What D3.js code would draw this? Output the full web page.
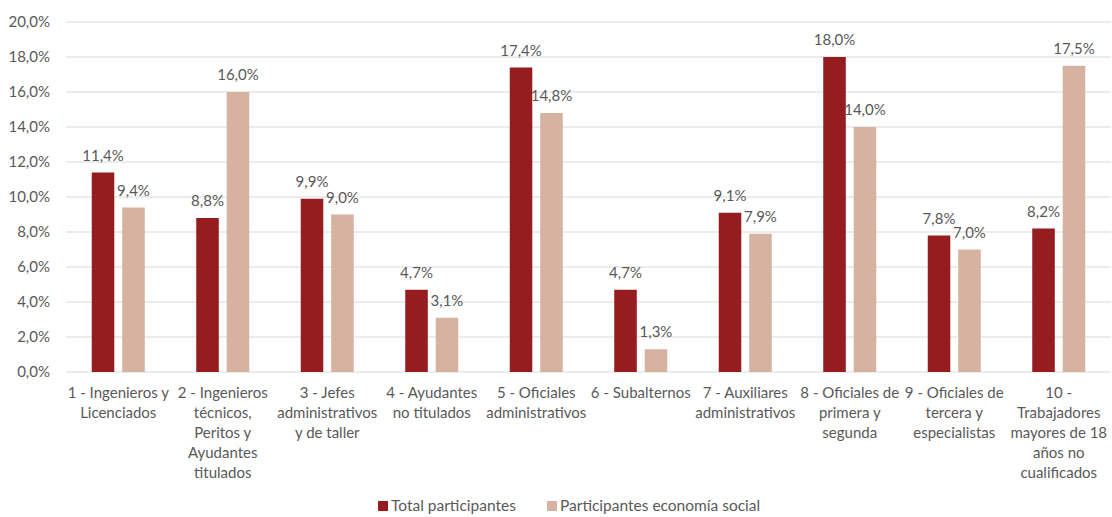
<!DOCTYPE html>
<html>
<head>
<meta charset="utf-8">
<script src="https://cdn.jsdelivr.net/npm/d3@7"></script>
<style>
  body { margin: 0; background: #fff; }
  text { font-family: Lato, "Open Sans", sans-serif; fill: #595959; }
</style>
</head>
<body>
<script>
// data
var categories = [
    '1 - Ingenieros y\nLicenciados',
    '2 - Ingenieros\ntécnicos,\nPeritos y\nAyudantes\ntitulados',
    '3 - Jefes\nadministrativos\ny de taller',
    '4 - Ayudantes\nno titulados',
    '5 - Oficiales\nadministrativos',
    '6 - Subalternos',
    '7 - Auxiliares\nadministrativos',
    '8 - Oficiales de\nprimera y\nsegunda',
    '9 - Oficiales de\ntercera y\nespecialistas',
    '10 -\nTrabajadores\nmayores de 18\naños no\ncualificados'
];
var seriesNames = ['Total participantes', 'Participantes economía social'];
var totalValues  = [11.4, 8.8, 9.9, 4.7, 17.4, 4.7, 9.1, 18.0, 7.8, 8.2];
var socialValues = [9.4, 16.0, 9.0, 3.1, 14.8, 1.3, 7.9, 14.0, 7.0, 17.5];
var yTicks = [0, 2, 4, 6, 8, 10, 12, 14, 16, 18, 20];
var colors = ['#951C1F', '#D5B3A0'];

// init
var width  = 1112,
    height = 517,
    margin = { top: 22, right: 1, bottom: 145, left: 66 };

var fmt = function (v) { return v.toFixed(1).replace('.', ',') + '%'; };

var svg = d3.select('body')
    .append('svg')
    .attr('width', width)
    .attr('height', height);

// scales
var xScale = d3.scaleBand()
    .domain(categories)
    .range([margin.left, width - margin.right]);

var xInner = d3.scaleBand()
    .domain(seriesNames)
    .range([xScale.bandwidth() / 2 - 26.5, xScale.bandwidth() / 2 + 26.5])
    .paddingInner(0.26);

var yScale = d3.scaleLinear()
    .domain([0, 20])
    .range([height - margin.bottom, margin.top]);

// grid lines
svg.append('g')
    .selectAll('line')
    .data(yTicks)
    .join('line')
    .attr('x1', margin.left)
    .attr('x2', width - margin.right)
    .attr('y1', d => yScale(d))
    .attr('y2', d => yScale(d))
    .attr('stroke', '#D9D9D9')
    .attr('stroke-width', 1);

// y-axis labels
svg.append('g')
    .selectAll('text')
    .data(yTicks)
    .join('text')
    .attr('x', 50)
    .attr('y', d => yScale(d))
    .attr('dy', '0.35em')
    .attr('text-anchor', 'end')
    .style('font-size', '15px')
    .text(d => fmt(d));

// bars
var rows = categories.map((c, i) => ({ cat: c, values: [totalValues[i], socialValues[i]] }));

var groups = svg.append('g')
    .selectAll('g')
    .data(rows)
    .join('g')
    .attr('transform', d => 'translate(' + xScale(d.cat) + ',0)');

groups.selectAll('rect')
    .data(d => d.values.map((v, j) => ({ name: seriesNames[j], value: v, j: j })))
    .join('rect')
    .attr('x', d => xInner(d.name))
    .attr('width', xInner.bandwidth())
    .attr('y', d => yScale(d.value))
    .attr('height', d => yScale(0) - yScale(d.value))
    .attr('fill', d => colors[d.j]);

groups.selectAll('text.val')
    .data(d => d.values.map((v, j) => ({ name: seriesNames[j], value: v })))
    .join('text')
    .attr('class', 'val')
    .attr('x', d => xInner(d.name) + xInner.bandwidth() / 2)
    .attr('y', d => yScale(d.value) - 12)
    .attr('text-anchor', 'middle')
    .style('font-size', '15px')
    .text(d => fmt(d.value));

// category labels
var catLabels = svg.append('g')
    .selectAll('text')
    .data(categories)
    .join('text')
    .attr('text-anchor', 'middle')
    .style('font-size', '15px')
    .attr('transform', d => 'translate(' + (xScale(d) + xScale.bandwidth() / 2) + ',' + (yScale(0) + 26) + ')');

catLabels.selectAll('tspan')
    .data(d => d.split('\n'))
    .join('tspan')
    .attr('x', 0)
    .attr('y', (d, i) => i * 20)
    .text(d => d);

// legend (kept fully inside the frame)
var legendX = [378, 547];
var legend = svg.append('g')
    .selectAll('g')
    .data(seriesNames)
    .join('g')
    .attr('transform', (d, i) => 'translate(' + legendX[i] + ',' + 501 + ')');

legend.append('rect')
    .attr('width', 10)
    .attr('height', 10)
    .attr('fill', (d, i) => colors[i]);

legend.append('text')
    .attr('x', 13)
    .attr('y', 10)
    .style('font-size', '15.5px')
    .text(d => d);
</script>
</body>
</html>
